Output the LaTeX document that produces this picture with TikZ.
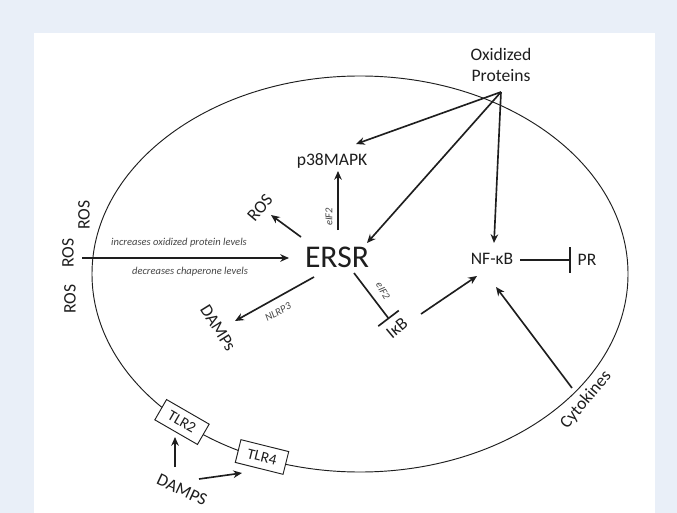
\documentclass[tikz,border=0pt]{standalone}
\usepackage{fontspec}
\setmainfont{Carlito}
\usetikzlibrary{arrows.meta}
\definecolor{pageblue}{RGB}{233,239,248}
\definecolor{ink}{RGB}{30,30,30}
\definecolor{notegray}{RGB}{70,70,70}
\tikzset{
	lbl/.style={text=ink, font=\fontsize{15}{18}\selectfont, inner sep=1pt},
	note/.style={text=notegray, font=\itshape\fontsize{9}{10}\selectfont, inner sep=0pt},
	act/.style={->, line width=1.4pt, draw=ink},
	inh/.style={-{Bar[width=22pt]}, line width=1.4pt, draw=ink},
	tlrbox/.style={draw=ink, line width=0.8pt, fill=white, text=ink, font=\fontsize{13}{15}\selectfont, minimum width=42pt, minimum height=20pt, inner sep=1pt},
}

\begin{document}
\begin{tikzpicture}[x=0.03cm, y=-0.03cm, >={Stealth[length=7.5pt,width=6.5pt]}]
	\fill[pageblue] (0,0) rectangle (677,513);
	\fill[white] (34,33) rectangle (655,513);
	\useasboundingbox (0,0) rectangle (677,513);

	% cell
	\draw[ink, line width=0.8pt] (360,274) ellipse [x radius=8.04cm, y radius=5.94cm];

	% nodes
	\node[lbl, align=center] (op) at (501,65) {Oxidized\\Proteins};
	\coordinate (opfoot) at (501,92);
	\node[lbl] (p38) at (332,161) {p38MAPK};
	\node[lbl, font=\fontsize{27}{30}\selectfont] (ersr) at (337,257) {ERSR};
	\node[lbl] (nfkb) at (492,259) {NF-κB};
	\node[lbl] (pr) at (587,260) {PR};
	\node[lbl, rotate=50] (rosup) at (260,208) {ROS};
	\node[lbl, rotate=-58] (damps) at (218,328) {DAMPs};
	\node[lbl, rotate=40] (ikb) at (397,328) {IκB};
	\node[lbl, rotate=50] (cyto) at (586,400) {Cytokines};
	\node[lbl, rotate=90] (rosa) at (84,215) {ROS};
	\node[lbl, rotate=90] (rosb) at (68,253) {ROS};
	\node[lbl, rotate=90] (rosc) at (70,299) {ROS};
	\node[tlrbox, rotate=-30] (tlrtwo) at (182,422) {TLR2};
	\node[tlrbox, rotate=-14] (tlrfour) at (262,457) {TLR4};
	\node[lbl, rotate=-25] (dampsx) at (182,490) {DAMPS};

	% labels
	\node[note] (incr) at (179,243) {increases oxidized protein levels};
	\node[note] (decr) at (190,272) {decreases chaperone levels};
	\node[note, rotate=90] (eifup) at (329,217) {eIF2};
	\node[note, rotate=-60] (eifdown) at (383,291) {eIF2};
	\node[note, rotate=28] (nlrp) at (278,312) {NLRP3};

	% oxidized proteins
	\draw[act] (opfoot) -- ([shift={(24,-17)}]p38.center);
	\draw[act] (opfoot) -- ([shift={(30,-14)}]ersr.center);
	\draw[act] (opfoot) -- ([shift={(2,-16)}]nfkb.center);

	% ERSR
	\draw[act] ([shift={(14,5)}]rosb.center) -- ([shift={(-48,1)}]ersr.center);
	\draw[act] ([shift={(1,-27)}]ersr.center) -- ([shift={(6,10)}]p38.center);
	\draw[act] ([shift={(-36,-20)}]ersr.center) -- ([shift={(11,7)}]rosup.center);
	\draw[act] ([shift={(-23,20)}]ersr.center) -- ([shift={(17,-7)}]damps.center);
	\draw[inh] ([shift={(17,16)}]ersr.center) -- ([shift={(-8,-9)}]ikb.center);

	% NF-kB
	\draw[act] ([shift={(24,-14)}]ikb.center) -- ([shift={(-15,17)}]nfkb.center);
	\draw[act] ([shift={(-14,-12)}]cyto.center) -- ([shift={(4,28)}]nfkb.center);
	\draw[inh] ([shift={(28,1)}]nfkb.center) -- ([shift={(-16,0)}]pr.center);

	% receptors
	\draw[act] ([shift={(-7,-23)}]dampsx.center) -- ([shift={(-7,15)}]tlrtwo.center);
	\draw[act] ([shift={(17,-11)}]dampsx.center) -- ([shift={(-20,16)}]tlrfour.center);
\end{tikzpicture}
\end{document}
